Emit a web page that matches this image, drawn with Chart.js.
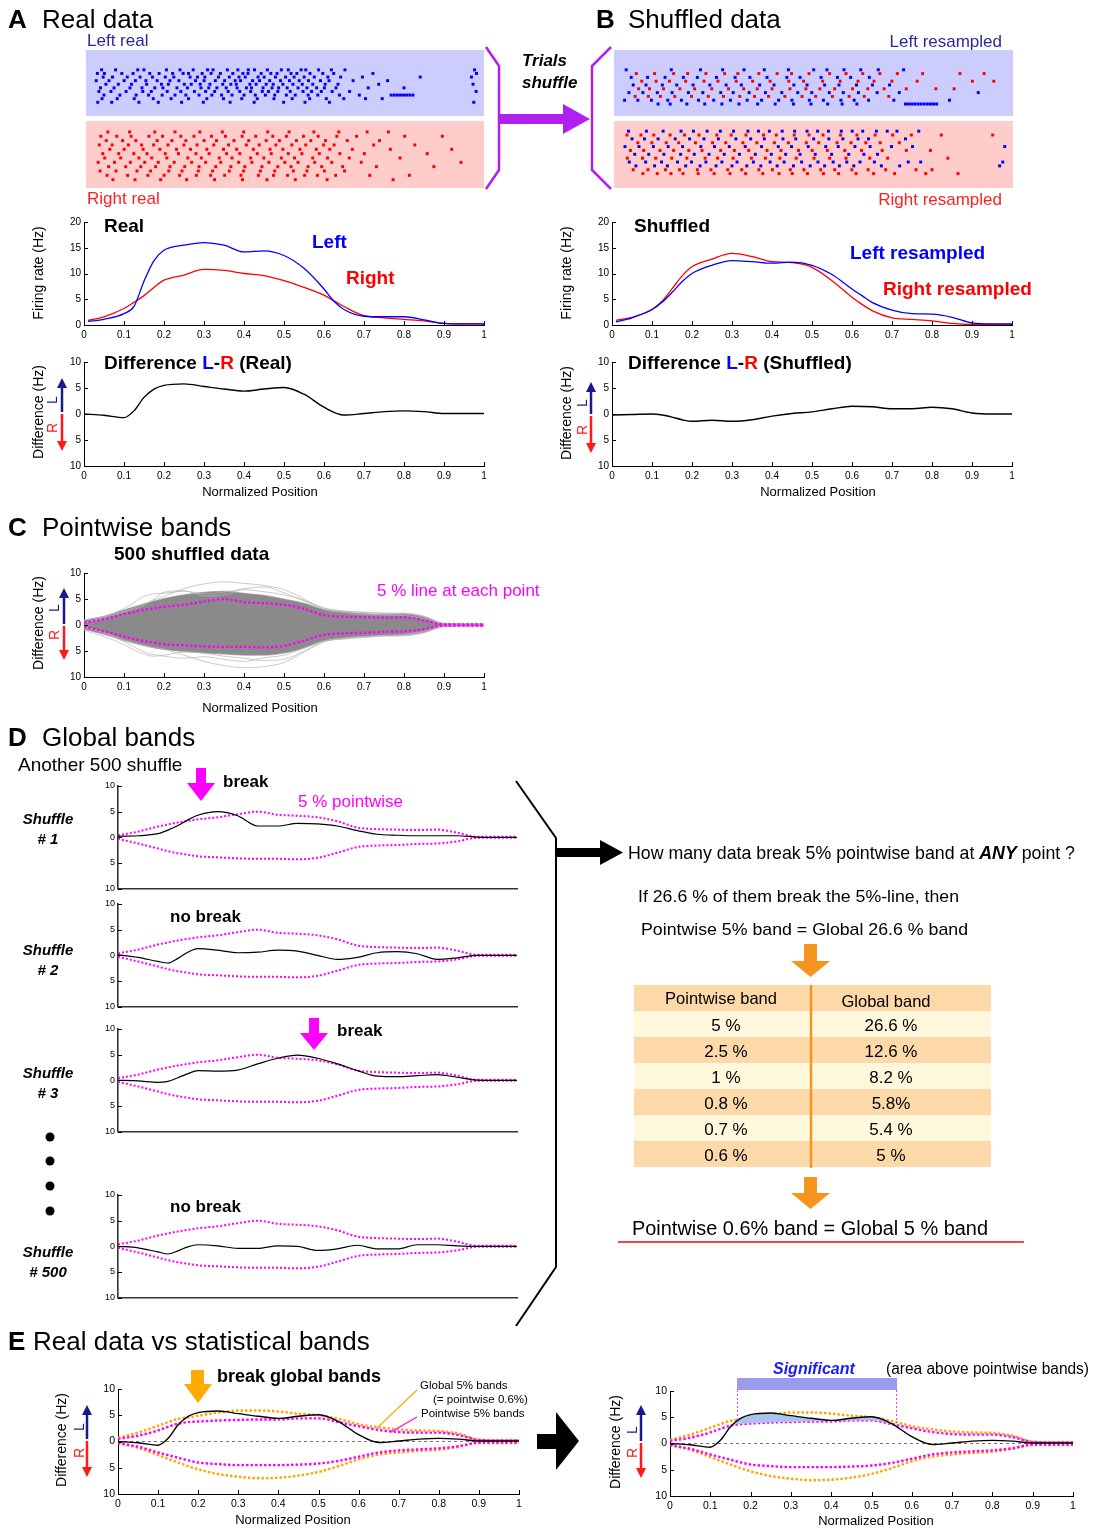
<!DOCTYPE html>
<html>
<head>
<meta charset="utf-8">
<script src="https://cdn.jsdelivr.net/npm/chart.js@4.4.1/dist/chart.umd.min.js"></script>
<style>
body { margin: 0; background: #fff; }
#page { position: relative; width: 1096px; height: 1532px; overflow: hidden; font-family: "Liberation Sans", Arial, sans-serif; }
#overlay { position: absolute; left: 0; top: 0; z-index: 10; }
canvas { position: absolute; }
</style>
</head>
<body>
<div id="page">
<svg id="overlay" width="1096" height="1532" font-family="Liberation Sans, Arial, sans-serif">
  <!-- panel headings -->
  <g font-size="26">
    <text x="8" y="28" font-weight="bold">A</text><text x="42" y="28">Real data</text>
    <text x="596" y="28" font-weight="bold">B</text><text x="628" y="28">Shuffled data</text>
    <text x="8" y="536" font-weight="bold">C</text><text x="42" y="536">Pointwise bands</text>
    <text x="8" y="746" font-weight="bold">D</text><text x="42" y="746">Global bands</text>
    <text x="8" y="1350" font-weight="bold">E</text><text x="33" y="1350">Real data vs statistical bands</text>
  </g>

  <!-- raster labels -->
  <text x="87" y="46" font-size="17" fill="#2a2a9a">Left real</text>
  <text x="87" y="204" font-size="17" fill="#ff2020">Right real</text>
  <text x="1002" y="47" font-size="17" fill="#2a2a9a" text-anchor="end">Left resampled</text>
  <text x="1002" y="205" font-size="17" fill="#ff2020" text-anchor="end">Right resampled</text>

  <!-- shuffle brackets + arrow -->
  <polyline points="486,47 499,66 499,170 486,189" fill="none" stroke="#b020f0" stroke-width="2.5"/>
  <polyline points="611,47 592,66 592,170 611,189" fill="none" stroke="#b020f0" stroke-width="2.5"/>
  <rect x="499" y="114" width="65" height="10" fill="#b020f0"/>
  <polygon points="563,104 590,119 563,134" fill="#b020f0"/>
  <text x="522" y="66" font-size="17" font-weight="bold" font-style="italic">Trials</text>
  <text x="522" y="88" font-size="17" font-weight="bold" font-style="italic">shuffle</text>

  <!-- A / B plot titles -->
  <text x="104" y="232" font-size="19" font-weight="bold">Real</text>
  <text x="312" y="248" font-size="19" font-weight="bold" fill="#0000ff">Left</text>
  <text x="346" y="284" font-size="19" font-weight="bold" fill="#ff0000">Right</text>
  <text x="104" y="369" font-size="19" font-weight="bold">Difference <tspan fill="#0000ff">L</tspan>-<tspan fill="#ff0000">R</tspan> (Real)</text>
  <text x="634" y="232" font-size="19" font-weight="bold">Shuffled</text>
  <text x="850" y="259" font-size="19" font-weight="bold" fill="#0000ff">Left resampled</text>
  <text x="883" y="295" font-size="19" font-weight="bold" fill="#ff0000">Right resampled</text>
  <text x="628" y="369" font-size="19" font-weight="bold">Difference <tspan fill="#0000ff">L</tspan>-<tspan fill="#ff0000">R</tspan> (Shuffled)</text>

  <!-- axis titles -->
  <g font-size="14" text-anchor="middle">
    <text transform="translate(43,273) rotate(-90)">Firing rate (Hz)</text>
    <text transform="translate(43,412) rotate(-90)">Difference (Hz)</text>
    <text transform="translate(571,273) rotate(-90)">Firing rate (Hz)</text>
    <text transform="translate(571,413) rotate(-90)">Difference (Hz)</text>
    <text transform="translate(43,623) rotate(-90)">Difference (Hz)</text>
    <text transform="translate(66,1440) rotate(-90)">Difference (Hz)</text>
    <text transform="translate(620,1442) rotate(-90)">Difference (Hz)</text>
  </g>
  <g font-size="13" text-anchor="middle">
    <text x="260" y="496">Normalized Position</text>
    <text x="818" y="496">Normalized Position</text>
    <text x="260" y="712">Normalized Position</text>
    <text x="293" y="1524">Normalized Position</text>
    <text x="876" y="1525">Normalized Position</text>
  </g>

  <!-- L / R direction arrows -->
  <g id="lrArrows"></g>

  <!-- C texts -->
  <text x="114" y="560" font-size="19" font-weight="bold">500 shuffled data</text>
  <text x="377" y="596" font-size="17" fill="#ff00ff">5 % line at each point</text>

  <!-- D texts -->
  <text x="18" y="771" font-size="19">Another 500 shuffle</text>
  <g font-size="15" font-weight="bold" font-style="italic" text-anchor="middle">
    <text x="48" y="824">Shuffle</text><text x="48" y="844"># 1</text>
    <text x="48" y="955">Shuffle</text><text x="48" y="975"># 2</text>
    <text x="48" y="1078">Shuffle</text><text x="48" y="1098"># 3</text>
    <text x="48" y="1257">Shuffle</text><text x="48" y="1277"># 500</text>
  </g>
  <circle cx="50" cy="1137" r="4.5"/><circle cx="50" cy="1161" r="4.5"/>
  <circle cx="50" cy="1186" r="4.5"/><circle cx="50" cy="1211" r="4.5"/>
  <rect x="196" y="768" width="10" height="16" fill="#ff00ff"/>
  <polygon points="187,783 215,783 201,801" fill="#ff00ff"/>
  <text x="223" y="787" font-size="17" font-weight="bold">break</text>
  <text x="298" y="807" font-size="17" fill="#ff00ff">5 % pointwise</text>
  <text x="170" y="922" font-size="17" font-weight="bold">no break</text>
  <rect x="309" y="1018" width="10" height="16" fill="#ff00ff"/>
  <polygon points="300,1033 328,1033 314,1050" fill="#ff00ff"/>
  <text x="337" y="1036" font-size="17" font-weight="bold">break</text>
  <text x="170" y="1212" font-size="17" font-weight="bold">no break</text>
  <polyline points="516,781 556,838 556,1267 516,1326" fill="none" stroke="#000" stroke-width="2"/>
  <rect x="557" y="848" width="44" height="9"/>
  <polygon points="600,840 623,852.5 600,865"/>

  <!-- D right side -->
  <text x="628" y="859" font-size="19" textLength="447" lengthAdjust="spacingAndGlyphs">How many data break 5% pointwise band at <tspan font-weight="bold" font-style="italic">ANY</tspan> point ?</text>
  <text x="638" y="902" font-size="17" textLength="321" lengthAdjust="spacingAndGlyphs">If 26.6 % of them break the 5%-line, then</text>
  <text x="641" y="935" font-size="17" textLength="327" lengthAdjust="spacingAndGlyphs">Pointwise 5% band = Global 26.6 % band</text>
  <rect x="804" y="944" width="13" height="18" fill="#f7941d"/>
  <polygon points="791,961 830,961 810.5,977" fill="#f7941d"/>
  <g id="bandTable"></g>
  <rect x="804" y="1177" width="13" height="17" fill="#f7941d"/>
  <polygon points="791,1193 830,1193 810.5,1209" fill="#f7941d"/>
  <text x="632" y="1235" font-size="20" textLength="356" lengthAdjust="spacingAndGlyphs">Pointwise 0.6% band = Global 5 % band</text>
  <line x1="618" y1="1242" x2="1024" y2="1242" stroke="#ff0000" stroke-width="1.5"/>

  <!-- E annotations -->
  <rect x="191" y="1370" width="13" height="15" fill="#ffaa00"/>
  <polygon points="184,1384 212,1384 198,1403" fill="#ffaa00"/>
  <text x="217" y="1382" font-size="18" font-weight="bold">break global bands</text>
  <g font-size="11.5">
    <text x="420" y="1389">Global 5% bands</text>
    <text x="433" y="1403">(= pointwise 0.6%)</text>
    <text x="421" y="1417">Pointwise 5% bands</text>
  </g>
  <line x1="417" y1="1390" x2="377" y2="1428" stroke="#ffaa00" stroke-width="1.2"/>
  <line x1="417" y1="1417" x2="391" y2="1432" stroke="#ff00ff" stroke-width="1.2"/>
  <rect x="537" y="1434" width="20" height="15"/>
  <polygon points="556,1412 579,1441 556,1470"/>
  <rect x="737" y="1378" width="160" height="12" fill="#9a9aef"/>
  <line x1="737.5" y1="1390" x2="737.5" y2="1421" stroke="#ff00ff" stroke-width="0.8" stroke-dasharray="2,2"/>
  <line x1="896.5" y1="1390" x2="896.5" y2="1423" stroke="#ff00ff" stroke-width="0.8" stroke-dasharray="2,2"/>
  <text x="773" y="1374" font-size="16" font-weight="bold" font-style="italic" fill="#1a1aff">Significant</text>
  <text x="886" y="1374" font-size="16" textLength="203" lengthAdjust="spacingAndGlyphs">(area above pointwise bands)</text>
</svg>
</div>

<script>
// ---------- data ----------
// spike positions (percent of normalized position), one string per trial row
const leftRealRows = [
  "2.5 6.1 11.8 13.4 19.2 22.7 26.1 29.8 31.2 34.9 37.6 40.3 41.9 45.2 48.8 50.6 53.9 55.1 58.4 61.7 65.2 98.6",
  "1.4 3.2 7.7 10.6 14.9 17.3 20.8 23.5 24.9 28.4 30.7 33.1 36.3 38.9 40.2 43.6 46.1 47.7 51.3 52.8 56.2 59.5 62.3 72.4 99.1",
  "2.9 5.3 9.1 12.4 15.6 18.9 21.1 25.3 27.2 29.1 32.6 35.4 37.9 39.5 42.8 44.4 47.3 49.9 52.1 54.7 57.3 60.8 64.1 69.7 84.6 97.8",
  "1.1 4.4 8.3 11.2 13.9 16.8 20.1 22.4 26.7 28.9 31.8 34.2 36.9 38.3 41.4 43.2 45.8 48.6 50.9 53.4 55.8 58.9 61.1 67.3 76.2",
  "3.6 6.8 10.2 14.1 17.9 19.7 23.8 25.6 27.9 30.4 33.7 35.8 37.2 40.7 42.3 44.9 46.7 49.2 51.8 54.2 56.9 60.1 63.4 73.9 98.2",
  "2.2 5.7 9.8 12.9 16.2 18.3 21.9 24.6 28.1 30.1 32.2 34.6 37.4 39.8 41.1 44.1 46.4 48.1 50.3 53.1 55.4 57.9 59.9 62.9 71.2 80.4",
  "1.8 4.9 8.8 13.1 15.3 19.4 22.9 26.4 29.3 31.6 35.1 38.1 40.9 43.9 45.5 47.9 51.1 54.4 56.6 59.1 61.9 66.4 99.0",
  "3.1 7.2 11.4 14.6 18.1 21.4 24.2 27.6 30.9 33.4 36.1 39.2 42.1 44.7 47.1 50.1 52.4 55.7 58.2 63.8 68.9 77.1 77.9 78.7 79.5 80.3 81.1 81.9 82.7",
  "2.6 6.5 10.9 15.8 20.4 24.9 29.6 33.9 38.6 42.6 46.9 51.6 56.1 60.4 64.9 70.5 74.8",
  "1.5 5.1 12.1 17.1 23.1 28.7 35.6 41.8 49.4 54.9 61.2 98.4"
];
const rightRealRows = [
  "4.1 9.7 16.2 21.4 27.8 33.6 39.1 45.3 50.8 57.2 63.6 70.9 76.4",
  "2.3 6.4 10.1 14.7 18.2 22.9 26.3 30.8 34.4 38.7 42.2 46.6 50.1 54.5 58.3 63.1 68.2 80.6 90.3",
  "3.7 7.9 11.3 16.8 20.6 24.2 28.9 32.1 36.6 40.4 44.9 48.3 52.7 56.4 60.2 65.8 74.1",
  "1.9 5.2 9.4 12.8 15.9 19.6 23.7 27.1 31.4 35.2 39.8 43.1 47.4 51.5 55.1 59.7 62.4 72.6 83.2",
  "4.6 8.3 13.2 17.5 21.8 25.4 29.6 33.9 37.3 41.6 45.9 49.2 53.6 57.8 61.3 67.1 76.9 92.7",
  "2.8 6.9 10.8 14.2 18.9 22.3 26.8 30.2 34.7 38.1 42.6 46.2 50.6 54.1 58.6 63.9 70.2 86.4",
  "3.3 7.4 12.1 15.4 19.3 24.7 28.2 32.8 36.1 40.9 44.3 48.8 52.2 56.9 60.7 66.3 79.4",
  "1.6 5.8 9.9 13.6 17.1 21.2 25.7 29.3 33.2 37.8 41.2 45.6 49.7 53.1 57.4 61.8 69.4 95.1",
  "4.3 8.7 12.6 16.4 20.1 23.9 27.6 31.9 35.8 39.4 43.8 47.9 51.3 55.7 59.2 64.6 73.3 88.1",
  "2.1 6.2 11.6 15.1 19.8 23.2 27.4 31.1 35.4 39.1 43.4 47.1 51.9 55.4 59.9 65.1",
  "3.9 9.2 14.4 18.6 22.6 26.9 30.6 34.2 38.4 42.9 46.8 50.4 54.8 58.1 62.8 71.6 81.8",
  "5.4 11.1 17.7 24.4 31.6 38.8 45.1 52.4 60.6 77.6"
];
const leftResRows = [
  "1.6 13.2 20.7 26.4 31.9 37.1 43.3 49.8 53.2 57.6 61.9 66.4 72.9",
  "4.2 8.9 13.8 17.4 22.1 26.9 30.3 35.7 40.4 44.1 48.6 53.9 58.1 62.4 66.8 71.3 77.8 87.4 93.6",
  "2.9 7.1 11.6 16.3 19.9 24.8 29.6 33.4 37.8 42.9 46.3 51.7 55.9 59.3 64.1",
  "5.6 9.3 12.7 16.9 21.6 25.2 29.9 34.1 38.6 43.4 47.2 52.1 56.6 61.2 65.3 69.9 76.4 90.6 96.1",
  "3.4 6.7 10.9 14.6 18.8 23.1 27.3 31.2 35.9 39.6 44.7 48.1 52.6 56.3 60.8 64.9 69.3",
  "4.8 7.6 11.2 15.4 19.2 23.6 27.9 31.8 35.3 39.1 43.7 47.8 51.4 55.2 59.8 63.7 67.9 73.6 81.2 85.9",
  "2.3 5.9 9.6 13.4 17.6 21.3 25.9 29.1 33.2 37.4 41.6 45.7 49.3 53.8 57.4 61.3 66.1 71.8 92.1",
  "3.9 7.3 10.4 14.1 18.4 22.7 26.6 30.8 34.6 38.2 42.4 46.8 50.3 54.6 58.9 62.8 69.1",
  "1.2 4.6 8.1 12.3 15.8 20.2 24.1 28.4 32.7 36.4 40.8 44.2 48.7 52.3 56.8 60.2 63.9 70.4 84.7",
  "9.8 12.9 17.2 21.8 26.2 30.6 35.4 39.9 44.6 49.1 53.4 57.1 60.9 73.4 74.2 75.0 75.8 76.6 77.4 78.2 79.0 79.8 80.6 81.4"
];
const leftResColors = ['b', 'r', 'b', 'r', 'b', 'r', 'b', 'r', 'b', 'b'];
const rightResRows = [
  "2.2 6.8 11.1 15.7 18.9 22.4 25.8 29.2 32.9 35.6 38.4 41.7 44.9 48.1 50.8 53.6 56.9 59.7 62.4 65.9 68.7 71.2 76.8",
  "1.8 5.4 8.7 12.9 16.6 20.3 24.9 28.6 32.4 36.9 40.2 44.8 48.6 52.2 56.7 60.9 65.6 70.1 74.9 82.6 95.8",
  "3.1 6.3 9.8 14.2 17.9 21.6 25.3 29.8 33.6 37.1 41.9 45.2 49.8 53.7 57.3 61.2 63.9 73.4",
  "4.6 8.2 11.9 15.1 19.4 23.8 27.2 31.6 35.2 39.7 43.3 47.9 51.1 55.8 59.4 63.2 66.9 71.8",
  "1.3 4.9 8.6 12.4 16.1 20.8 24.3 28.1 32.2 36.4 40.7 44.1 48.4 52.9 56.1 60.4 64.3 69.8 75.2 98.9",
  "2.7 6.1 10.3 13.8 17.7 21.1 25.9 29.4 33.1 37.8 41.4 45.9 49.4 53.3 57.8 62.1 67.4 73.6 79.8",
  "3.8 7.4 11.3 15.6 19.1 22.9 26.8 30.7 34.8 38.9 42.6 46.3 50.2 54.4 58.8 62.7 66.2",
  "1.9 5.8 9.2 13.3 17.2 21.9 25.1 29.1 33.8 37.4 41.1 45.3 49.9 53.9 58.1 64.2 68.8 84.3",
  "2.4 6.6 10.7 14.8 18.4 22.1 26.2 30.1 34.3 38.6 42.2 46.7 50.9 54.8 58.3 61.7 65.4 74.1 77.3 98.4",
  "4.1 8.9 12.2 16.9 20.6 24.7 28.8 32.6 36.2 40.4 44.6 48.9 52.6 56.4 60.1 67.2 71.9 97.6",
  "3.4 7.2 11.7 15.3 19.9 23.4 27.7 31.3 35.7 39.2 43.8 47.3 51.6 55.2 59.6 63.8 68.3 76.1 80.2",
  "5.9 9.6 13.1 16.2 20.1 24.2 28.3 32.3 36.7 40.9 44.3 48.2 52.3 56.2 60.7 65.2 70.6 78.6 86.9"
];
const rightResColors = ['b', 'r', 'b', 'r', 'b', 'r', 'b', 'r', 'b', 'b', 'r', 'r'];

// firing rates (Hz)
const xsRate = [0.01, 0.05, 0.1, 0.125, 0.15, 0.175, 0.2, 0.25, 0.3, 0.35, 0.4, 0.45, 0.5, 0.55, 0.6, 0.625, 0.65, 0.7, 0.75, 0.8, 0.85, 0.9, 0.95, 1];
const leftReal  = [0.7, 1.1, 2.2, 3.6, 8.5, 12.5, 14.5, 15.5, 16.0, 15.5, 14.2, 14.4, 13.5, 11.0, 7.0, 4.6, 3.0, 1.7, 1.6, 1.6, 1.0, 0.3, 0.2, 0.2];
const rightReal = [0.9, 1.6, 3.2, 4.4, 5.7, 7.3, 8.7, 9.7, 10.8, 10.6, 10.0, 9.6, 8.6, 7.3, 5.8, 4.7, 3.6, 1.8, 1.4, 1.1, 0.8, 0.3, 0.2, 0.2];
const leftShuf  = [0.6, 1.4, 3.0, 4.4, 6.3, 8.4, 10.0, 11.6, 12.5, 12.3, 12.0, 12.2, 11.6, 9.8, 7.0, 5.7, 4.4, 2.9, 2.2, 2.1, 1.5, 0.4, 0.2, 0.2];
const rightShuf = [0.9, 1.5, 3.0, 4.6, 7.0, 9.5, 11.3, 12.8, 13.9, 13.3, 12.3, 12.1, 11.2, 8.6, 5.4, 4.0, 2.8, 1.4, 1.1, 0.8, 0.3, 0.1, 0.1, 0.1];

// differences L-R (Hz)
const xsDiff = [0, 0.05, 0.1, 0.125, 0.15, 0.175, 0.2, 0.25, 0.3, 0.35, 0.4, 0.45, 0.5, 0.55, 0.6, 0.65, 0.7, 0.75, 0.8, 0.85, 0.9, 0.95, 1];
const diffReal = [0, -0.25, -0.7, 0.6, 3.2, 4.8, 5.5, 5.8, 5.3, 4.8, 4.4, 4.8, 5.1, 3.8, 1.3, -0.2, 0.1, 0.45, 0.6, 0.45, 0.1, 0.1, 0.1];
const diffShuf = [-0.2, -0.1, 0, -0.2, -0.6, -1.1, -1.4, -1.2, -1.4, -1.1, -0.4, 0.1, 0.4, 1.0, 1.5, 1.4, 1.0, 1.0, 1.3, 1.0, 0.2, 0, 0];

// shuffled traces, panel C
const grayHi = [0.9, 1.7, 2.9, 3.5, 4.1, 4.6, 5.1, 5.8, 6.3, 6.5, 6.1, 5.7, 5.0, 4.2, 3.0, 2.5, 2.2, 2.0, 2.1, 1.6, 0.3, 0.2, 0.2];
const grayLo = [-0.8, -1.8, -3.0, -3.5, -4.0, -4.4, -4.7, -5.1, -5.4, -5.6, -5.8, -5.8, -5.4, -4.4, -3.0, -2.5, -2.2, -2.0, -1.9, -1.4, -0.3, -0.2, -0.2];
const grayOut1 = [1.0, 1.6, 2.6, 3.3, 4.0, 4.8, 5.5, 7.0, 7.9, 8.3, 8.0, 7.6, 6.8, 5.0, 3.0, 2.4, 2.0, 1.9, 1.8, 1.2, 0.2, 0.2, 0.2];
const grayOut2 = [0.4, 1.5, 3.2, 4.3, 5.5, 6.0, 6.1, 6.5, 6.0, 6.3, 7.0, 7.3, 6.2, 4.6, 3.2, 2.6, 2.5, 2.3, 2.2, 1.5, 0.2, 0.2, 0.2];
const grayOut3 = [-0.5, -1.4, -2.8, -3.4, -3.9, -4.3, -4.6, -5.8, -7.0, -7.8, -8.2, -8.0, -7.2, -5.2, -3.2, -2.6, -2.2, -2.0, -1.8, -1.2, -0.2, -0.2, -0.2];
const grayOut4 = [-1.0, -2.2, -3.8, -4.8, -5.6, -6.0, -5.8, -5.2, -5.4, -6.0, -6.4, -6.8, -6.6, -5.0, -3.2, -2.5, -2.3, -2.1, -2.0, -1.3, -0.2, -0.2, -0.2];
const grayOut5 = [0.3, 1.2, 2.5, 3.0, 3.8, 5.0, 6.3, 6.6, 5.6, 5.8, 6.8, 6.4, 5.8, 4.8, 3.3, 2.7, 2.4, 2.2, 2.3, 1.7, 0.3, 0.2, 0.2];
const grayOut6 = [-0.4, -1.5, -3.2, -4.2, -5.2, -5.7, -6.0, -6.4, -6.1, -6.6, -7.0, -6.3, -5.8, -4.5, -3.1, -2.7, -2.4, -2.1, -2.1, -1.5, -0.3, -0.2, -0.2];

// 5% pointwise bands (C, D)
const ptwUpper = [0.4, 1.1, 2.1, 2.5, 2.9, 3.2, 3.5, 3.9, 4.5, 5.0, 4.4, 4.2, 3.9, 3.1, 1.9, 1.6, 1.5, 1.4, 1.5, 0.9, 0.1, 0.1, 0.1];
const ptwLower = [-0.3, -1.2, -2.2, -2.7, -3.1, -3.4, -3.7, -3.9, -4.1, -4.2, -4.2, -4.3, -4.0, -3.0, -1.9, -1.6, -1.5, -1.3, -1.2, -0.8, -0.1, -0.1, -0.1];

// D: individual shuffles
const shuffle1   = [0.2, 0.3, 0.7, 1.4, 2.3, 3.4, 4.3, 5.0, 4.2, 2.2, 2.2, 2.7, 2.6, 2.2, 1.3, 0.6, 0.4, 0.3, 0.3, 0.3, 0.05, 0, 0];
const shuffle2   = [0.1, -0.4, -1.2, -1.5, -0.6, 0.6, 1.3, 1.0, 0.5, 0.6, 1.0, 0.8, 0.0, -0.8, -0.4, 0.5, 0.7, 0.3, -0.8, -0.5, 0, 0, 0];
const shuffle3   = [0, -0.1, -0.4, -0.2, 0.5, 1.3, 1.9, 1.8, 2.0, 3.2, 4.3, 4.9, 4.3, 3.2, 1.9, 0.8, 0.7, 0.9, 1.1, 0.6, 0.05, 0, 0];
const shuffle500 = [0, -0.3, -1.1, -1.5, -0.9, -0.1, 0.3, 0.1, -0.4, -0.4, 0.1, 0.0, -0.8, -0.5, 0.2, -0.5, -0.5, 0.3, 0.3, 0.1, 0, 0, 0];

// E: pointwise 5% and global 5% bands
const ptwUpperE  = [0.5, 1.1, 2.1, 2.8, 3.4, 3.7, 3.8, 4.0, 4.1, 4.2, 4.2, 4.4, 4.4, 3.7, 2.9, 2.2, 1.8, 1.7, 1.7, 1.2, 0.3, 0.2, 0.2];
const ptwLowerE  = [-0.3, -1.0, -2.1, -2.6, -3.1, -3.6, -4.0, -4.3, -4.5, -4.5, -4.5, -4.4, -4.2, -3.7, -2.9, -2.1, -1.7, -1.5, -1.3, -0.9, -0.2, -0.2, -0.2];
const globUpper  = [0.7, 1.7, 3.0, 3.7, 4.3, 4.6, 4.9, 5.5, 5.9, 5.9, 5.7, 5.3, 5.0, 4.3, 3.3, 2.7, 2.3, 2.1, 2.0, 1.5, 0.3, 0.2, 0.2];
const globLower  = [-0.3, -1.2, -2.6, -3.3, -4.0, -4.7, -5.3, -6.2, -6.7, -7.0, -6.9, -6.5, -5.8, -4.7, -3.4, -2.5, -2.1, -1.8, -1.6, -1.0, -0.3, -0.3, -0.3];

// table
const tableHeader = ['Pointwise band', 'Global band'];
const pointwiseCol = ['5 %', '2.5 %', '1 %', '0.8 %', '0.7 %', '0.6 %'];
const globalCol = ['26.6 %', '12.6 %', '8.2 %', '5.8%', '5.4 %', '5 %'];

// ---------- drawing ----------
Chart.defaults.font.family = '"Liberation Sans", Arial, Helvetica, sans-serif';
Chart.defaults.color = '#000';
const page = document.getElementById('page');
const SVGNS = 'http://www.w3.org/2000/svg';

// MATLAB-like inward tick marks
const inwardTicks = {
    id: 'inwardTicks',
    afterDraw(chart, args, opts) {
        const ctx = chart.ctx;
        const a = chart.chartArea;
        const sx = chart.scales.x, sy = chart.scales.y;
        ctx.save();
        ctx.strokeStyle = '#000';
        ctx.lineWidth = 1;
        ctx.beginPath();
        if (opts.x !== false) {
            sx.ticks.forEach(t => {
                const p = Math.round(sx.getPixelForValue(t.value)) + 0.5;
                ctx.moveTo(p, a.bottom);
                ctx.lineTo(p, a.bottom - 4);
            });
        }
        sy.ticks.forEach(t => {
            const p = Math.round(sy.getPixelForValue(t.value)) + 0.5;
            ctx.moveTo(a.left, p);
            ctx.lineTo(a.left + 4, p);
        });
        ctx.stroke();
        ctx.restore();
    }
};

function pts(xs, ys) {
    return xs.map((x, i) => ({ x: x, y: ys[i] }));
}

function line(xs, ys, color, width, dash, extra) {
    return Object.assign({
        data: pts(xs, ys),
        borderColor: color,
        borderWidth: width,
        borderDash: dash || [],
        pointRadius: 0,
        fill: false,
        cubicInterpolationMode: 'monotone'
    }, extra || {});
}

function addPlot(box, datasets, cfg) {
    const padL = cfg.padL || 40, padT = 10, padR = 16, padB = cfg.padB || 22;
    const w = box.w + padL + padR, h = box.h + padT + padB;
    const cv = document.createElement('canvas');
    cv.width = w;
    cv.height = h;
    cv.style.left = (box.x - padL) + 'px';
    cv.style.top = (box.y - padT) + 'px';
    cv.style.width = w + 'px';
    cv.style.height = h + 'px';
    page.appendChild(cv);
    const fs = cfg.font || 10;
    const axisW = cfg.axisWidth || 1;
    return new Chart(cv, {
        type: 'line',
        data: { datasets: datasets },
        options: {
            responsive: false,
            animation: false,
            devicePixelRatio: 1,
            layout: { padding: { top: padT, right: padR, left: 0, bottom: 0 } },
            plugins: {
                legend: { display: false },
                tooltip: { enabled: false },
                inwardTicks: { x: cfg.xLabels !== false }
            },
            scales: {
                x: {
                    type: 'linear', min: 0, max: 1,
                    grid: { display: false, drawTicks: false },
                    border: { color: cfg.axisColor || '#000', width: axisW },
                    ticks: {
                        display: cfg.xLabels !== false,
                        stepSize: 0.1, autoSkip: false, maxRotation: 0, padding: 4,
                        font: { size: fs }, color: '#000',
                        callback: v => Math.round(v * 10) / 10
                    },
                    afterFit: s => { s.height = padB; }
                },
                y: {
                    type: 'linear', min: cfg.yMin, max: cfg.yMax,
                    grid: { display: false, drawTicks: false },
                    border: { color: cfg.axisColor || '#000', width: axisW },
                    ticks: {
                        stepSize: 5, padding: 3,
                        font: { size: fs }, color: '#000',
                        callback: v => Math.abs(v)
                    },
                    afterFit: s => { s.width = padL; }
                }
            }
        },
        plugins: [inwardTicks]
    });
}

function addRaster(box, rows, colors, bg, yMin, yMax) {
    const cv = document.createElement('canvas');
    cv.width = box.w;
    cv.height = box.h;
    cv.style.left = box.x + 'px';
    cv.style.top = box.y + 'px';
    cv.style.width = box.w + 'px';
    cv.style.height = box.h + 'px';
    cv.style.background = bg;
    page.appendChild(cv);
    const blue = [], red = [];
    rows.forEach((r, i) => {
        r.split(' ').forEach(p => {
            (colors[i] === 'b' ? blue : red).push({ x: Number(p) / 100, y: i });
        });
    });
    const dot = (data, color) => ({
        data: data, backgroundColor: color, borderWidth: 0,
        pointStyle: 'rect', pointRadius: 2.1, clip: false
    });
    new Chart(cv, {
        type: 'scatter',
        data: { datasets: [dot(blue, '#0000ff'), dot(red, '#ff0000')] },
        options: {
            responsive: false, animation: false, devicePixelRatio: 1,
            layout: { padding: 0 },
            plugins: { legend: { display: false }, tooltip: { enabled: false } },
            scales: {
                x: { display: false, min: -0.005, max: 1.0 },
                y: { display: false, min: yMin, max: yMax, reverse: true }
            }
        }
    });
}

// rasters
addRaster({ x: 86, y: 50, w: 398, h: 66 }, leftRealRows, leftRealRows.map(() => 'b'), '#ccccff', -4.4, 11.7);
addRaster({ x: 86, y: 121, w: 398, h: 67 }, rightRealRows, rightRealRows.map(() => 'r'), '#ffcccc', -1.6, 12.0);
addRaster({ x: 614, y: 50, w: 399, h: 66 }, leftResRows, leftResColors, '#ccccff', -4.15, 11.1);
addRaster({ x: 614, y: 121, w: 399, h: 67 }, rightResRows, rightResColors, '#ffcccc', -1.6, 13.7);

// A / B firing rates and differences
addPlot({ x: 84, y: 222, w: 400, h: 103 }, [
    line(xsRate, leftReal, '#0000ff', 1.3),
    line(xsRate, rightReal, '#ff0000', 1.3)
], { yMin: 0, yMax: 20 });
addPlot({ x: 84, y: 362, w: 400, h: 104 }, [
    line(xsDiff, diffReal, '#000', 1.4)
], { yMin: -10, yMax: 10 });
addPlot({ x: 612, y: 222, w: 400, h: 103 }, [
    line(xsRate, leftShuf, '#0000ff', 1.3),
    line(xsRate, rightShuf, '#ff0000', 1.3)
], { yMin: 0, yMax: 20 });
addPlot({ x: 612, y: 362, w: 400, h: 104 }, [
    line(xsDiff, diffShuf, '#000', 1.4)
], { yMin: -10, yMax: 10 });

// C pointwise bands
const grayTraces = [grayOut1, grayOut2, grayOut3, grayOut4, grayOut5, grayOut6];
addPlot({ x: 84, y: 573, w: 400, h: 104 }, [
    line(xsDiff, ptwUpper, '#ff00ff', 2.4, [2.5, 2]),
    line(xsDiff, ptwLower, '#ff00ff', 2.4, [2.5, 2])
].concat(grayTraces.map(t => line(xsDiff, t, '#b4b4b4', 0.7))).concat([
    line(xsDiff, grayLo, '#9a9a9a', 0.7),
    line(xsDiff, grayHi, '#9a9a9a', 0.7, null, { fill: '-1', backgroundColor: '#8a8a8a' })
]), { yMin: -10, yMax: 10 });

// D individual shuffles
[[shuffle1, 786], [shuffle2, 904], [shuffle3, 1029], [shuffle500, 1195]].forEach(([trace, top]) => {
    addPlot({ x: 118, y: top, w: 399, h: 103 }, [
        line(xsDiff, trace, '#000', 1.2),
        line(xsDiff, ptwUpper, '#ff00ff', 2, [2, 2]),
        line(xsDiff, ptwLower, '#ff00ff', 2, [2, 2])
    ], { yMin: -10, yMax: 10, xLabels: false, padL: 30, padB: 8, font: 9, axisWidth: 1.6, axisColor: '#333' });
});

// E real data vs bands
function bandsE(withFill) {
    const real = line(xsDiff, diffReal, '#000', 1.4, null, withFill
        ? { fill: { target: 1, above: '#a9c4ef', below: 'rgba(0,0,0,0)' } } : {});
    return [
        real,
        line(xsDiff, ptwUpperE, '#ff00ff', 2.4, [2.5, 2]),
        line(xsDiff, ptwLowerE, '#ff00ff', 2.4, [2.5, 2]),
        line(xsDiff, globUpper, '#ffa500', 2.4, [2.5, 2]),
        line(xsDiff, globLower, '#ffa500', 2.4, [2.5, 2]),
        line([0, 1], [0, 0], '#555', 0.8, [3, 3])
    ];
}
addPlot({ x: 118, y: 1389, w: 401, h: 105 }, bandsE(false), { yMin: -10, yMax: 10, font: 10.5 });
addPlot({ x: 670, y: 1391, w: 403, h: 105 }, bandsE(true), { yMin: -10, yMax: 10, font: 10.5 });

// ---------- SVG helpers for arrows and table ----------
function svgEl(parent, tag, attrs, text) {
    const el = document.createElementNS(SVGNS, tag);
    Object.keys(attrs).forEach(k => el.setAttribute(k, attrs[k]));
    if (text !== undefined) el.textContent = text;
    parent.appendChild(el);
    return el;
}

const lr = document.getElementById('lrArrows');
[[62, 378, 413, 451, 52, 400, 428], [591, 382, 415, 453, 582, 403, 430],
 [64, 588, 625, 660, 54, 608, 635], [87, 1405, 1440, 1477, 79, 1427, 1453],
 [641, 1405, 1442, 1478, 632, 1430, 1453]].forEach(([x, top, mid, bot, lx, ly, ry]) => {
    svgEl(lr, 'line', { x1: x, y1: mid - 1, x2: x, y2: top + 8, stroke: '#1a1a8c', 'stroke-width': 2.5 });
    svgEl(lr, 'polygon', { points: `${x - 5},${top + 10} ${x + 5},${top + 10} ${x},${top}`, fill: '#1a1a8c' });
    svgEl(lr, 'line', { x1: x, y1: mid + 1, x2: x, y2: bot - 8, stroke: '#ff1a1a', 'stroke-width': 2.5 });
    svgEl(lr, 'polygon', { points: `${x - 5},${bot - 10} ${x + 5},${bot - 10} ${x},${bot}`, fill: '#ff1a1a' });
    svgEl(lr, 'text', { transform: `translate(${lx + 5},${ly}) rotate(-90)`, 'text-anchor': 'middle', 'font-size': 14, fill: '#1a1a8c' }, 'L');
    svgEl(lr, 'text', { transform: `translate(${lx + 5},${ry}) rotate(-90)`, 'text-anchor': 'middle', 'font-size': 14, fill: '#ff1a1a' }, 'R');
});

const tb = document.getElementById('bandTable');
svgEl(tb, 'rect', { x: 634, y: 985, width: 357, height: 27, fill: '#fdd9a9' });
pointwiseCol.forEach((p, i) => {
    const y = 1011 + i * 26;
    svgEl(tb, 'rect', { x: 634, y: y, width: 357, height: 26, fill: i % 2 === 0 ? '#fff8dc' : '#fdd9a9' });
    svgEl(tb, 'text', { x: 726, y: y + 20, 'font-size': 17, 'text-anchor': 'middle' }, p);
    svgEl(tb, 'text', { x: 891, y: y + 20, 'font-size': 17, 'text-anchor': 'middle' }, globalCol[i]);
});
svgEl(tb, 'text', { x: 721, y: 1004, 'font-size': 16.5, 'text-anchor': 'middle' }, tableHeader[0]);
svgEl(tb, 'text', { x: 886, y: 1007, 'font-size': 16.5, 'text-anchor': 'middle' }, tableHeader[1]);
svgEl(tb, 'line', { x1: 811, y1: 985, x2: 811, y2: 1168, stroke: '#f7941d', 'stroke-width': 2.5 });
</script>
</body>
</html>
